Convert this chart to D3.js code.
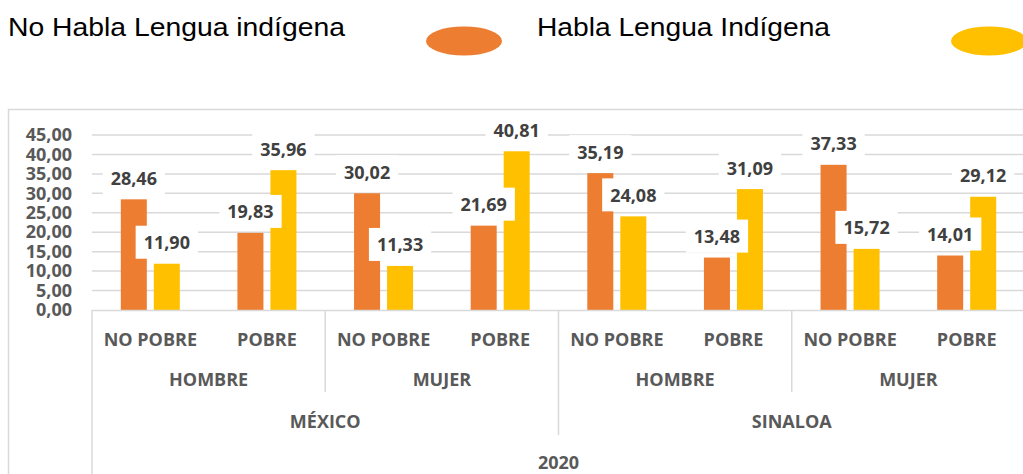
<!DOCTYPE html>
<html><head><meta charset="utf-8">
<script src="https://cdn.jsdelivr.net/npm/d3@7"></script>
<style>body{margin:0;background:#fff}svg{display:block}</style>
</head><body>
<svg id="c" width="1023" height="474"></svg>
<script>
const seriesNames = ["No Habla Lengua indígena", "Habla Lengua Indígena"];
const regions = ["MÉXICO", "SINALOA"];
const sexes = ["HOMBRE", "MUJER"];
const povertyLevels = ["NO POBRE", "POBRE"];
const yearLabel = "2020";
const noHabla = [28.46, 19.83, 30.02, 21.69, 35.19, 13.48, 37.33, 14.01];
const habla   = [11.90, 35.96, 11.33, 40.81, 24.08, 31.09, 15.72, 29.12];
const yTicks = [0, 5, 10, 15, 20, 25, 30, 35, 40, 45];
const colors = ["#ED7D31", "#FFC000"];

(function () {
const leaves = [];
regions.forEach(r => sexes.forEach(s => povertyLevels.forEach(p => leaves.push({r, s, p, key: r + "|" + s + "|" + p}))));

const svg = d3.select("#c");
const fontB = "'Open Sans', 'Liberation Sans', sans-serif";
const grid = "#d9d9d9";
const pL = 92, pR = 1025, pT = 135, pB = 310;

// outer frame
svg.append("rect").attr("x", 8.5).attr("y", 109.5).attr("width", 1100).attr("height", 500)
  .attr("fill", "none").attr("stroke", grid).attr("stroke-width", 1.5);

// legend
const legText = [{t: seriesNames[0], x: 8, w: 337, ex: 464}, {t: seriesNames[1], x: 537, w: 293, ex: 989}];
legText.forEach((d, i) => {
  svg.append("text").attr("x", d.x).attr("y", 36).attr("font-family", "'Liberation Sans', Arial, sans-serif")
    .attr("font-size", 25).attr("fill", "#000").attr("textLength", d.w).attr("lengthAdjust", "spacingAndGlyphs").text(d.t);
  svg.append("ellipse").attr("cx", d.ex).attr("cy", 41).attr("rx", 38).attr("ry", 14.5).attr("fill", colors[i]);
});

const y = d3.scaleLinear().domain([0, 45]).range([pB, pT]);
const x0 = d3.scaleBand().domain(leaves.map(d => d.key)).range([pL, pR]);
const x1 = d3.scaleBand().domain([0, 1]).range([0, x0.bandwidth()]).paddingInner(0.212).paddingOuter(0.873);

// gridlines
svg.append("g").selectAll("line").data(yTicks.filter(v => v > 0)).join("line")
  .attr("x1", pL).attr("x2", 1023).attr("y1", d => y(d)).attr("y2", d => y(d))
  .attr("stroke", grid).attr("stroke-width", 1.5);

// y axis labels
const yAxis = d3.axisLeft(y).tickValues(yTicks).tickSize(0).tickPadding(20)
  .tickFormat(d => d3.format(".2f")(d).replace(".", ","));
const ya = svg.append("g").attr("transform", `translate(${pL},0)`).call(yAxis);
ya.select(".domain").remove();
ya.selectAll("text").attr("font-family", fontB).attr("font-weight", 700).attr("font-size", 18).attr("fill", "#595959");

// bars
const data = leaves.map((l, i) => ({key: l.key, vals: [noHabla[i], habla[i]]}));
const bars = [];
data.forEach(d => d.vals.forEach((v, j) => bars.push({key: d.key, j, v})));
svg.append("g").selectAll("rect").data(bars).join("rect")
  .attr("x", d => x0(d.key) + x1(d.j)).attr("width", x1.bandwidth())
  .attr("y", d => y(d.v)).attr("height", d => y(0) - y(d.v)).attr("fill", d => colors[d.j]);

// category axis lines
const axG = svg.append("g").attr("stroke", grid).attr("stroke-width", 1.5);
axG.append("line").attr("x1", pL).attr("x2", 1030).attr("y1", pB + 0.5).attr("y2", pB + 0.5);
axG.append("line").attr("x1", pL).attr("x2", pL).attr("y1", pB).attr("y2", 474);
regions.forEach(r => {
  const k = r + "|" + sexes[1] + "|" + povertyLevels[0];
  axG.append("line").attr("x1", x0(k)).attr("x2", x0(k)).attr("y1", pB).attr("y2", 392);
});
const kr = regions[1] + "|" + sexes[0] + "|" + povertyLevels[0];
axG.append("line").attr("x1", x0(kr)).attr("x2", x0(kr)).attr("y1", pB).attr("y2", 435);

// category labels
const catText = (x, yy, t) => svg.append("text").attr("x", x).attr("y", yy).attr("text-anchor", "middle")
  .attr("font-family", fontB).attr("font-weight", 700).attr("font-size", 18).attr("fill", "#595959").text(t);
leaves.forEach(l => catText(x0(l.key) + x0.bandwidth() / 2, 345.5, l.p));
regions.forEach(r => sexes.forEach(s => {
  const a = x0(r + "|" + s + "|" + povertyLevels[0]);
  catText(a + x0.bandwidth(), 385.5, s);
}));
regions.forEach(r => {
  const a = x0(r + "|" + sexes[0] + "|" + povertyLevels[0]);
  catText(a + 2 * x0.bandwidth(), 427.5, r);
});
catText((pL + pR) / 2, 468.5, yearLabel);

// data labels
const lg = svg.append("g");
bars.forEach(d => {
  const cx = x0(d.key) + x1(d.j) + x1.bandwidth() / 2;
  const cy = y(d.v) - 21;
  const g = lg.append("g");
  const t = g.append("text").attr("x", cx).attr("y", cy + 6.5).attr("text-anchor", "middle")
    .attr("font-family", fontB).attr("font-weight", 700).attr("font-size", 18).attr("fill", "#404040")
    .text(d3.format(".2f")(d.v).replace(".", ","));
  const w = t.node().getComputedTextLength();
  g.insert("rect", "text").attr("x", cx - w / 2 - 8).attr("y", cy - 17).attr("width", w + 16).attr("height", 33).attr("fill", "#fff");
});
})();
</script>
</body></html>
